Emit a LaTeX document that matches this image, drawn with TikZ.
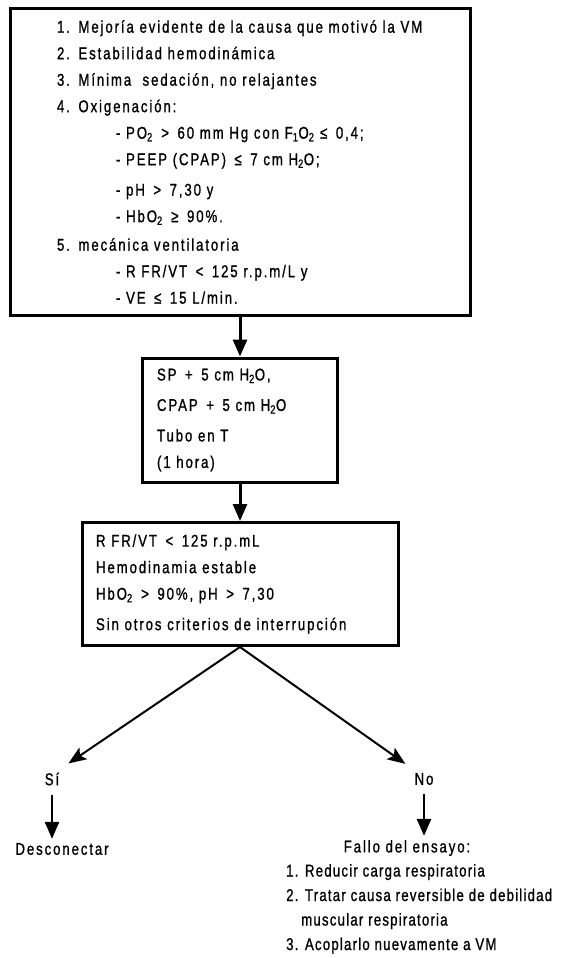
\documentclass[tikz,border=0pt]{standalone}
\usepackage{fontspec}
\setmainfont{Liberation Sans}[FakeStretch=0.78,LetterSpace=11,FakeBold=1]
\usetikzlibrary{arrows.meta,positioning}

\begin{document}
\begin{tikzpicture}
    [x=1pt,y=-1pt,
    font=\fontsize{17}{26.5}\selectfont,
    caja/.style={rectangle,draw,line width=3pt,align=left,inner sep=0pt},
    flecha/.style={-{Triangle[length=17pt,width=14pt]},line width=3pt},
    rama/.style={-{Stealth[length=18pt,width=14pt,inset=4pt]},line width=2pt},
    etiqueta/.style={inner sep=9pt}]
    \useasboundingbox (0,0) rectangle (565,958);
    % criterios para iniciar la prueba
    \node (criterios) at (240,162) [caja,minimum width=460pt,minimum height=306pt,text width=366pt]
        {1. Mejoría evidente de la causa que motivó la VM\\
         2. Estabilidad hemodinámica\\
         3. Mínima \ sedación, no relajantes\\
         4. Oxigenación:\\
         \hspace*{59pt}- PO\textsubscript{2} \,>\, 60 mm Hg con F\textsubscript{1}O\textsubscript{2} ≤\, 0,4;\\
         \hspace*{59pt}- PEEP (CPAP) \,≤\, 7 cm H\textsubscript{2}O;\\[4pt]
         \hspace*{59pt}- pH \,>\, 7,30 y\\
         \hspace*{59pt}- HbO\textsubscript{2} \,≥\, 90\%.\\[2pt]
         5. mecánica ventilatoria\\
         \hspace*{59pt}- R FR/VT \,<\, 125 r.p.m/L y\\
         \hspace*{59pt}- VE \,≤\, 15 L/min.};
    \node (prueba) at (240,420) [caja,minimum width=195pt,minimum height=124pt,text width=166pt]
        {SP \,+\, 5 cm H\textsubscript{2}O,\\[4pt]
         CPAP \,+\, 5 cm H\textsubscript{2}O\\[4pt]
         Tubo en T\\
         (1 hora)};
    \node (evalua) at (240,584) [caja,minimum width=316pt,minimum height=123pt,text width=288pt]
        {R FR/VT \,<\, 125 r.p.mL\\
         Hemodinamia estable\\
         HbO\textsubscript{2} \,>\, 90\%, pH \,>\, 7,30\\[4pt]
         Sin otros criterios de interrupción};
    % respuestas
    \node (si) at (52,779) [etiqueta] {Sí};
    \node (no) at (424,779) [etiqueta] {No};
    \node (desc) at (62,849) [inner sep=4pt] {Desconectar};
    \node (fallo) at (407,848) [inner sep=4pt] {Fallo del ensayo:};
    \node (pasos) at (286,864) [anchor=north west,inner sep=0pt,align=left,
        font=\fontsize{17}{24.5}\selectfont\addfontfeatures{LetterSpace=7}]
        {1. Reducir carga respiratoria\\
         2. Tratar causa reversible de debilidad\\
         \hspace*{15pt}muscular respiratoria\\
         3. Acoplarlo nuevamente a VM};
    \draw[flecha] (criterios) -- (prueba);
    \draw[flecha] (prueba) -- (evalua);
    \draw[rama] (evalua.south) -- (si.north east);
    \draw[rama] (evalua.south) -- (no.north west);
    \draw[flecha,line width=2.5pt] (si.south) -- (si.south |- desc.north);
    \draw[flecha,line width=2.5pt] (no.south) -- (no.south |- fallo.north);
\end{tikzpicture}
\end{document}
